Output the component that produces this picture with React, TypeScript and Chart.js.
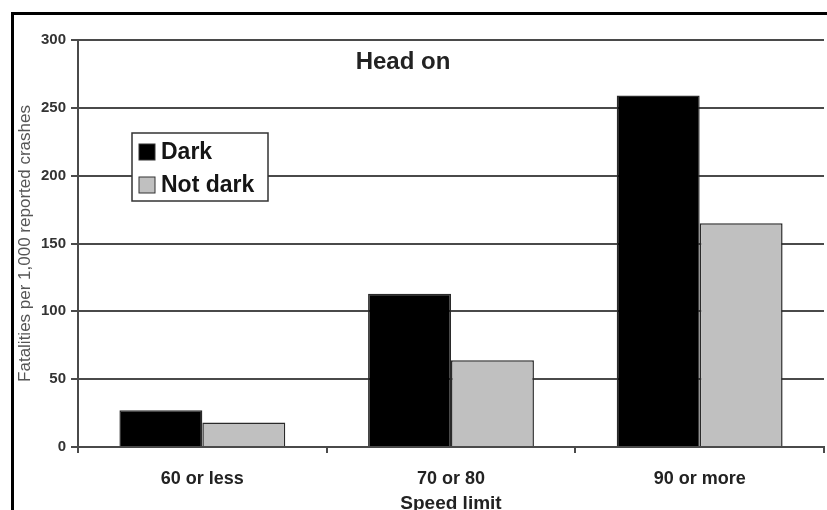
import React, { useEffect, useRef } from 'react';
import { Chart, registerables } from 'chart.js';

Chart.register(...registerables);

const categories = ['60 or less', '70 or 80', '90 or more'];
const seriesNames = ['Dark', 'Not dark'];
const darkValues = [27, 113, 259];
const notDarkValues = [18, 64, 165];
const yTickValues = [0, 50, 100, 150, 200, 250, 300];
const chartTitle = 'Head on';
const xTitle = 'Speed limit';
const yTitle = 'Fatalities per 1,000 reported crashes';

const FONT = '"Liberation Sans", Arial, Helvetica, sans-serif';

const overlayPlugin = {
  id: 'overlayPlugin',
  afterDatasetsDraw(chart: any) {
    const ctx = chart.ctx;
    const a = chart.chartArea;
    ctx.save();
    // chart title inside plot
    ctx.font = `bold 24px ${FONT}`;
    ctx.fillStyle = '#222';
    ctx.textAlign = 'center';
    ctx.textBaseline = 'middle';
    ctx.fillText(chartTitle, a.left + 325, a.top + 22);

    // legend box
    const bx = a.left + 54;
    const by = a.top + 93;
    const bw = 136;
    const bh = 68;
    ctx.fillStyle = '#fff';
    ctx.fillRect(bx, by, bw, bh);
    ctx.strokeStyle = '#333';
    ctx.lineWidth = 1.5;
    ctx.strokeRect(bx, by, bw, bh);
    chart.data.datasets.forEach((ds: any, i: number) => {
      const cy = by + 19 + i * 33;
      ctx.fillStyle = ds.backgroundColor;
      ctx.fillRect(bx + 7, cy - 8, 16, 16);
      ctx.strokeStyle = '#333';
      ctx.lineWidth = 1;
      ctx.strokeRect(bx + 7, cy - 8, 16, 16);
      ctx.fillStyle = '#151515';
      ctx.font = `bold 23px ${FONT}`;
      ctx.textAlign = 'left';
      ctx.textBaseline = 'middle';
      ctx.fillText(ds.label, bx + 29, cy + 1);
    });
    ctx.restore();
  },
};

export default function App() {
  const canvasRef = useRef<HTMLCanvasElement | null>(null);

  useEffect(() => {
    const canvas = canvasRef.current;
    if (!canvas) return;
    const gridColor = '#4a4a4a';
    const chart = new Chart(canvas, {
      type: 'bar',
      data: {
        labels: categories,
        datasets: [
          {
            label: seriesNames[0],
            data: darkValues,
            backgroundColor: '#000000',
            borderColor: '#2a2a2a',
            borderWidth: 1.5,
            categoryPercentage: 0.667,
            barPercentage: 1.0,
          },
          {
            label: seriesNames[1],
            data: notDarkValues,
            backgroundColor: '#c0c0c0',
            borderColor: '#2a2a2a',
            borderWidth: 1.5,
            categoryPercentage: 0.667,
            barPercentage: 1.0,
          },
        ],
      },
      options: {
        responsive: false,
        animation: false,
        devicePixelRatio: 1,
        layout: { padding: { top: 40, right: 3, bottom: 0, left: 0 } },
        plugins: {
          legend: { display: false },
          title: { display: false },
          tooltip: { enabled: false },
        },
        scales: {
          x: {
            grid: {
              display: true,
              drawOnChartArea: false,
              drawTicks: true,
              tickLength: 6,
              color: gridColor,
              lineWidth: 2,
              offset: true,
            },
            border: { display: true, color: gridColor, width: 2 },
            ticks: {
              color: '#222',
              padding: 15,
              font: { family: FONT, size: 18, weight: 'bold' },
            },
            title: {
              display: true,
              text: xTitle,
              color: '#222',
              padding: { top: 0, bottom: 0 },
              font: { family: FONT, size: 19, weight: 'bold', lineHeight: 0.7 },
            },
            afterFit(scale: any) {
              scale.height = 63;
            },
          },
          y: {
            min: 0,
            max: 300,
            afterBuildTicks(scale: any) {
              scale.ticks = yTickValues.map((v) => ({ value: v }));
            },
            grid: {
              color: gridColor,
              lineWidth: 2,
              drawTicks: true,
              tickLength: 7,
            },
            border: { display: true, color: gridColor, width: 2 },
            ticks: {
              color: '#333',
              padding: 5,
              font: { family: FONT, size: 15, weight: 'bold' },
            },
            title: {
              display: true,
              text: yTitle,
              color: '#555',
              padding: { top: 15, bottom: 0 },
              font: { family: FONT, size: 17, weight: 'normal', lineHeight: 1.2 },
            },
            afterFit(scale: any) {
              scale.width = 78;
            },
          },
        },
      },
      plugins: [overlayPlugin],
    } as any);
    return () => chart.destroy();
  }, []);

  return (
    <div
      style={{
        position: 'absolute',
        left: 0,
        top: 0,
        width: 827,
        height: 510,
        background: '#fff',
        overflow: 'hidden',
      }}
    >
      <div
        style={{
          position: 'absolute',
          left: 11,
          top: 12,
          width: 900,
          height: 600,
          borderTop: '3px solid #000',
          borderLeft: '3px solid #000',
        }}
      />
      <canvas
        ref={canvasRef}
        width={827}
        height={510}
        style={{ position: 'absolute', left: 0, top: 0, width: 827, height: 510 }}
      />
    </div>
  );
}
